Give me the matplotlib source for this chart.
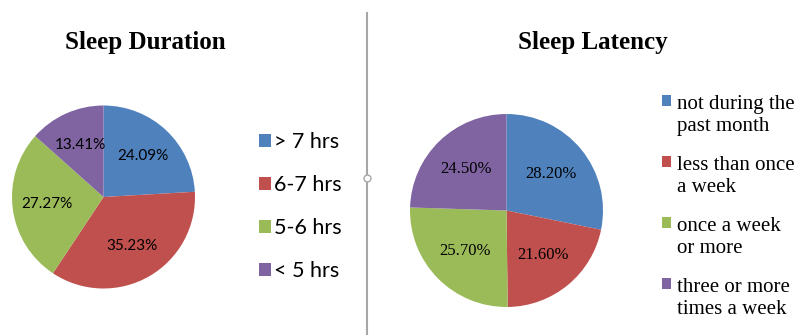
import matplotlib
matplotlib.use('Agg')
from matplotlib import pyplot as plt
from matplotlib.lines import Line2D

# data
duration_labels = ['> 7 hrs', '6-7 hrs', '5-6 hrs', '< 5 hrs']
duration_values = [24.09, 35.23, 27.27, 13.41]

latency_labels = ['not during the\npast month', 'less than once\na week',
                  'once a week\nor more', 'three or more\ntimes a week']
latency_values = [28.20, 21.60, 25.70, 24.50]

colors = ['#4F81BD', '#C0504D', '#9BBB59', '#8064A2']

W, H = 796, 335
fig = plt.figure(figsize=(W / 100, H / 100), dpi=100)
fig.patch.set_facecolor('white')

sans = ['Lato', 'DejaVu Sans']
serif = ['Liberation Serif', 'DejaVu Serif']


def px_axes(left, top, size):
    return fig.add_axes([left / W, (H - top - size) / H, size / W, size / H])


# left pie
ax1 = px_axes(12, 105.5, 183)
wedges1, _, autotexts1 = ax1.pie(duration_values, colors=colors, startangle=90,
                                 counterclock=False, autopct='%.2f%%',
                                 pctdistance=0.62, radius=1,
                                 textprops={'family': sans, 'fontsize': 11})
ax1.set_xlim(-1, 1)
ax1.set_ylim(-1, 1)
ax1.set_aspect('equal')
fig.text(145 / W, 1 - 43 / H, 'Sleep Duration', ha='center', va='center',
         family=serif, fontweight='bold', fontsize=18)
fig.legend(wedges1, duration_labels, loc='upper left',
           bbox_to_anchor=(240 / W, 1 - 113 / H), frameon=False,
           prop={'family': sans, 'size': 15.5}, handlelength=0.56,
           handleheight=0.56, handletextpad=0.14, labelspacing=1.07)

# right pie
ax2 = px_axes(410, 114, 193)
wedges2, _, autotexts2 = ax2.pie(latency_values, colors=colors, startangle=90,
                                 counterclock=False, autopct='%.2f%%',
                                 pctdistance=0.6, radius=1,
                                 textprops={'family': serif, 'fontsize': 12})
ax2.set_xlim(-1, 1)
ax2.set_ylim(-1, 1)
ax2.set_aspect('equal')
fig.text(593 / W, 1 - 43 / H, 'Sleep Latency', ha='center', va='center',
         family=serif, fontweight='bold', fontsize=18)
leg2 = fig.legend(wedges2, latency_labels, loc='upper left',
                  bbox_to_anchor=(643 / W, 1 - 76 / H), frameon=False,
                  prop={'family': serif, 'size': 15}, handlelength=0.43,
                  handleheight=0.43, handletextpad=0.3, labelspacing=0.97)
# put the squares next to the first line of each label
for col in leg2._legend_handle_box.get_children():
    for row in col.get_children():
        row.align = 'top'

# divider
fig.add_artist(Line2D([367 / W, 367 / W], [1 - 13 / H, 0], color='#A6A6A6',
                      lw=1.5, transform=fig.transFigure))
fig.add_artist(Line2D([367 / W], [1 - 178 / H], marker='o', markersize=5,
                      markerfacecolor='white', markeredgecolor='#A6A6A6',
                      markeredgewidth=1, transform=fig.transFigure))

fig.savefig('out.png', dpi=100)
